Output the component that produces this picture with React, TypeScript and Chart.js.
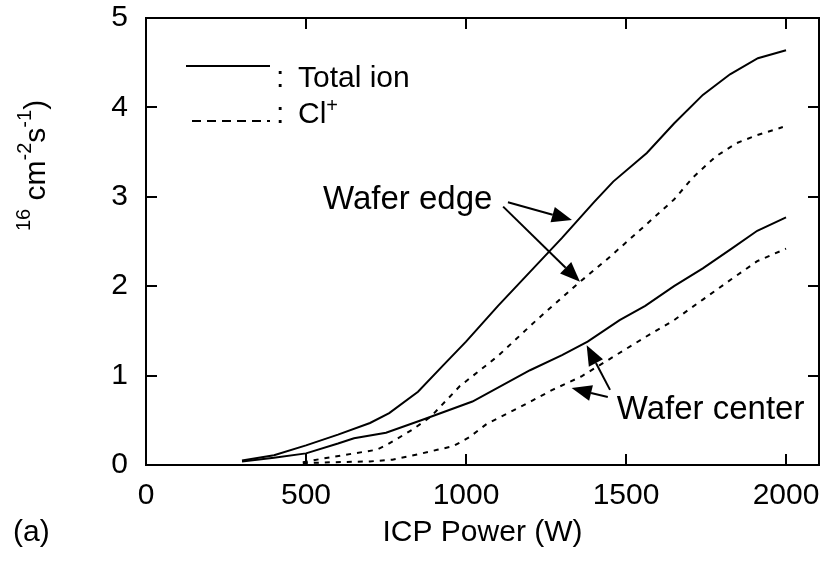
import React, { useEffect, useRef } from "react";
import { Chart, registerables } from "chart.js";

Chart.register(...registerables);

// ---- data ----
const xTicks = [0, 500, 1000, 1500, 2000];
const yTicks = [0, 1, 2, 3, 4, 5];

const edgeTotalX = [300, 400, 500, 600, 700, 760, 850, 930, 1000, 1100, 1200, 1300, 1400, 1460, 1565, 1650, 1740, 1825, 1912, 2000];
const edgeTotalY = [0.05, 0.11, 0.22, 0.34, 0.47, 0.58, 0.82, 1.12, 1.38, 1.78, 2.16, 2.54, 2.94, 3.17, 3.49, 3.82, 4.14, 4.37, 4.55, 4.64];

const centerTotalX = [300, 400, 500, 600, 650, 750, 860, 1020, 1200, 1300, 1380, 1480, 1560, 1650, 1740, 1830, 1910, 2000];
const centerTotalY = [0.04, 0.08, 0.13, 0.24, 0.3, 0.36, 0.5, 0.71, 1.06, 1.23, 1.38, 1.62, 1.78, 2.0, 2.2, 2.42, 2.62, 2.77];

const edgeClX = [490, 550, 650, 720, 750, 830, 890, 980, 1100, 1220, 1350, 1450, 1560, 1650, 1710, 1780, 1845, 1910, 1990];
const edgeClY = [0.03, 0.07, 0.13, 0.17, 0.22, 0.39, 0.54, 0.88, 1.22, 1.62, 2.03, 2.33, 2.68, 2.97, 3.22, 3.45, 3.6, 3.69, 3.78];

const centerClX = [490, 580, 700, 770, 850, 910, 960, 1010, 1065, 1170, 1270, 1360, 1460, 1560, 1650, 1740, 1830, 1910, 2000];
const centerClY = [0.02, 0.03, 0.04, 0.06, 0.12, 0.17, 0.21, 0.31, 0.46, 0.65, 0.84, 0.99, 1.21, 1.43, 1.62, 1.85, 2.08, 2.28, 2.42];

const legendLabels = ["Total ion", "Cl"];
const xTitle = "ICP Power (W)";
const panelLabel = "(a)";
const edgeLabel = "Wafer edge";
const centerLabel = "Wafer center";

// annotation anchors in data units: [x, y]
const edgeTextAt = [553, 2.96];
const edgeArrows = [
  [[1131, 2.94], [1331, 2.74]],
  [[1116, 2.89], [1356, 2.05]],
];
const centerTextAt = [1471, 0.62];
const centerArrows = [
  [[1450, 0.84], [1377, 1.34]],
  [[1443, 0.76], [1330, 0.86]],
];

const FONT = "'Liberation Sans', Arial, sans-serif";

const toPts = (xs: number[], ys: number[]) => xs.map((x, i) => ({ x, y: ys[i] }));

function drawArrow(ctx: CanvasRenderingContext2D, x1: number, y1: number, x2: number, y2: number) {
  const ang = Math.atan2(y2 - y1, x2 - x1);
  const hl = 20;
  const hw = 8;
  const bx = x2 - hl * Math.cos(ang);
  const by = y2 - hl * Math.sin(ang);
  ctx.beginPath();
  ctx.moveTo(x1, y1);
  ctx.lineTo(bx, by);
  ctx.lineWidth = 2;
  ctx.strokeStyle = "#000";
  ctx.stroke();
  ctx.beginPath();
  ctx.moveTo(x2, y2);
  ctx.lineTo(bx + hw * Math.sin(ang), by - hw * Math.cos(ang));
  ctx.lineTo(bx - hw * Math.sin(ang), by + hw * Math.cos(ang));
  ctx.closePath();
  ctx.fillStyle = "#000";
  ctx.fill();
}

const decorPlugin = {
  id: "decor",
  afterDraw(chart: any) {
    const ctx: CanvasRenderingContext2D = chart.ctx;
    const ca = chart.chartArea;
    const xs = chart.scales.x;
    const ys = chart.scales.y;
    ctx.save();
    // frame
    ctx.strokeStyle = "#000";
    ctx.lineWidth = 2;
    ctx.strokeRect(ca.left, ca.top, ca.right - ca.left, ca.bottom - ca.top);
    // inward ticks
    const tl = 11;
    ctx.beginPath();
    xTicks.forEach((v) => {
      if (v === 0) return;
      const px = Math.round(xs.getPixelForValue(v));
      ctx.moveTo(px, ca.bottom);
      ctx.lineTo(px, ca.bottom - tl);
      ctx.moveTo(px, ca.top);
      ctx.lineTo(px, ca.top + tl);
    });
    yTicks.forEach((v) => {
      if (v === 0 || v === 5) return;
      const py = Math.round(ys.getPixelForValue(v));
      ctx.moveTo(ca.left, py);
      ctx.lineTo(ca.left + tl, py);
      ctx.moveTo(ca.right, py);
      ctx.lineTo(ca.right - tl, py);
    });
    ctx.stroke();

    ctx.fillStyle = "#000";
    // legend
    ctx.lineWidth = 2;
    ctx.beginPath();
    ctx.moveTo(186, 66);
    ctx.lineTo(270, 66);
    ctx.stroke();
    ctx.setLineDash([9, 6]);
    ctx.beginPath();
    ctx.moveTo(192, 121);
    ctx.lineTo(270, 121);
    ctx.stroke();
    ctx.setLineDash([]);
    ctx.font = `30px ${FONT}`;
    ctx.textBaseline = "middle";
    ctx.textAlign = "left";
    ctx.fillText(":", 276, 79);
    ctx.fillText(legendLabels[0], 298, 79);
    ctx.fillText(":", 276, 115);
    ctx.fillText(legendLabels[1], 298, 115);
    const clw = ctx.measureText(legendLabels[1]).width;
    ctx.font = `20px ${FONT}`;
    ctx.fillText("+", 298 + clw, 106);

    // annotations
    ctx.font = `33px ${FONT}`;
    ctx.fillText(edgeLabel, xs.getPixelForValue(edgeTextAt[0]), ys.getPixelForValue(edgeTextAt[1]));
    ctx.fillText(centerLabel, xs.getPixelForValue(centerTextAt[0]), ys.getPixelForValue(centerTextAt[1]));
    [...edgeArrows, ...centerArrows].forEach(([a, b]) => {
      drawArrow(
        ctx,
        xs.getPixelForValue(a[0]),
        ys.getPixelForValue(a[1]),
        xs.getPixelForValue(b[0]),
        ys.getPixelForValue(b[1])
      );
    });

    // x title and panel label
    ctx.font = `30px ${FONT}`;
    ctx.textAlign = "center";
    ctx.fillText(xTitle, (ca.left + ca.right) / 2, 533);
    ctx.textAlign = "left";
    ctx.fillText(panelLabel, 13, 533);

    // cropped y-axis title
    ctx.save();
    ctx.translate(45, 231);
    ctx.rotate(-Math.PI / 2);
    ctx.textBaseline = "alphabetic";
    let cx = 0;
    const parts: [string, number, number][] = [
      ["16", 20, -15],
      [" ", 30, 0],
      ["cm", 30, 0],
      ["-2", 20, -14],
      ["s", 30, 0],
      ["-1", 20, -14],
      [")", 30, 0],
    ];
    parts.forEach(([t, size, dy]) => {
      ctx.font = `${size}px ${FONT}`;
      ctx.fillText(t, cx, dy);
      cx += ctx.measureText(t).width;
    });
    ctx.restore();

    ctx.restore();
  },
};

export default function App() {
  const ref = useRef<HTMLCanvasElement | null>(null);
  useEffect(() => {
    document.body.style.margin = "0";
    const canvas = ref.current!;
    const lineDs = (label: string, data: any[], dashed: boolean) => ({
      label,
      data,
      borderColor: "#000",
      backgroundColor: "#000",
      borderWidth: 2,
      borderDash: dashed ? [5, 6] : [],
      pointRadius: 0,
      tension: 0,
      fill: false,
    });
    const chart = new Chart(canvas, {
      type: "line",
      data: {
        datasets: [
          lineDs("Total ion (edge)", toPts(edgeTotalX, edgeTotalY), false),
          lineDs("Total ion (center)", toPts(centerTotalX, centerTotalY), false),
          lineDs("Cl+ (edge)", toPts(edgeClX, edgeClY), true),
          lineDs("Cl+ (center)", toPts(centerClX, centerClY), true),
        ],
      },
      options: {
        animation: false,
        responsive: false,
        layout: { padding: { left: 0, top: 18, right: 8, bottom: 0 } },
        plugins: { legend: { display: false }, tooltip: { enabled: false } },
        scales: {
          x: {
            type: "linear",
            min: 0,
            max: 2103,
            afterBuildTicks: (s: any) => {
              s.ticks = xTicks.map((v) => ({ value: v }));
            },
            afterFit: (s: any) => {
              s.height = 101;
              s.paddingLeft = 0;
              s.paddingRight = 0;
            },
            grid: { display: false, drawTicks: false },
            border: { display: false },
            ticks: {
              color: "#000",
              font: { family: FONT, size: 30 },
              padding: 13,
              maxRotation: 0,
              autoSkip: false,
              callback: (v: any) => String(v),
            },
          },
          y: {
            type: "linear",
            min: 0,
            max: 5,
            afterBuildTicks: (s: any) => {
              s.ticks = yTicks.map((v) => ({ value: v }));
            },
            afterFit: (s: any) => {
              s.width = 146;
              s.paddingTop = 0;
              s.paddingBottom = 0;
            },
            grid: { display: false, drawTicks: false },
            border: { display: false },
            ticks: {
              color: "#000",
              font: { family: FONT, size: 30 },
              padding: 18,
              autoSkip: false,
              callback: (v: any) => String(v),
            },
          },
        },
      },
      plugins: [decorPlugin],
    });
    return () => chart.destroy();
  }, []);
  return (
    <div style={{ position: "absolute", left: 0, top: 0, width: 827, height: 566, background: "#fff" }}>
      <canvas ref={ref} width={827} height={566} style={{ display: "block" }} />
    </div>
  );
}
